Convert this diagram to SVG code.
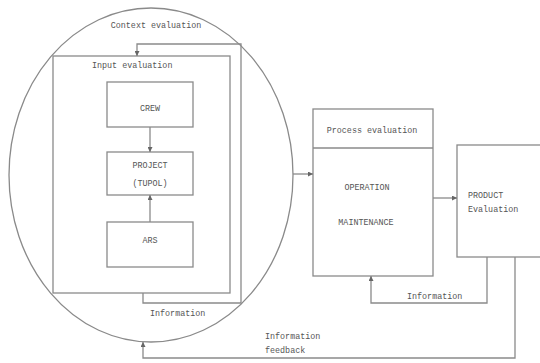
<svg xmlns="http://www.w3.org/2000/svg" width="540" height="363" viewBox="0 0 540 363">
<defs>
<marker id="arr" viewBox="0 0 8 8" refX="8" refY="4" markerWidth="5" markerHeight="5" orient="auto" markerUnits="userSpaceOnUse">
<path d="M0,0 L8,4 L0,8 z" fill="#666"/>
</marker>
<style>
.ln{fill:none;stroke:#8a8a8a;stroke-width:1.3}
.bx{fill:#fff;stroke:#8a8a8a;stroke-width:1.3}
.t{font-family:"Liberation Mono","DejaVu Sans Mono",monospace;font-size:8.4px;fill:#555}
.c{text-anchor:middle}
</style>
</defs>
<rect width="540" height="363" fill="#fff"/>
<g id="context">
<ellipse class="ln" cx="151" cy="175" rx="142" ry="167"/>
<text class="t c" x="156" y="28">Context evaluation</text>
</g>
<g id="input">
<rect class="bx" x="53" y="56" width="177" height="237"/>
<text class="t" x="92" y="68">Input evaluation</text>
</g>
<g id="crew">
<rect class="bx" x="107" y="82" width="86" height="45"/>
<text class="t c" x="150" y="111">CREW</text>
</g>
<g id="project">
<rect class="bx" x="107" y="152" width="86" height="43"/>
<text class="t c" x="150" y="168">PROJECT</text>
<text class="t c" x="150" y="186">(TUPOL)</text>
</g>
<g id="ars">
<rect class="bx" x="107" y="222" width="86" height="45"/>
<text class="t c" x="150" y="243">ARS</text>
</g>
<g id="process">
<rect class="bx" x="313" y="109" width="120" height="167"/>
<line class="ln" x1="313" y1="148" x2="433" y2="148"/>
<text class="t c" x="372" y="133">Process evaluation</text>
<text class="t c" x="367" y="190">OPERATION</text>
<text class="t c" x="366" y="225">MAINTENANCE</text>
</g>
<g id="product">
<rect class="bx" x="457" y="145" width="90" height="112"/>
<text class="t" x="468" y="198">PRODUCT</text>
<text class="t" x="468" y="212">Evaluation</text>
</g>
<g id="connectors">
<line class="ln" x1="150" y1="127" x2="150" y2="152" marker-end="url(#arr)"/>
<line class="ln" x1="150" y1="222" x2="150" y2="195" marker-end="url(#arr)"/>
<polyline class="ln" points="143,293 143,303 241,303 241,44 137,44 137,56" marker-end="url(#arr)"/>
<line class="ln" x1="293" y1="174" x2="313" y2="174" marker-end="url(#arr)"/>
<line class="ln" x1="433" y1="198" x2="457" y2="198" marker-end="url(#arr)"/>
<polyline class="ln" points="487,257 487,303 371,303 371,276" marker-end="url(#arr)"/>
<polyline class="ln" points="515,257 515,358 143,358 143,342" marker-end="url(#arr)"/>
<text class="t" x="150" y="316">Information</text>
<text class="t" x="407" y="299">Information</text>
<text class="t" x="265" y="339">Information</text>
<text class="t" x="265" y="353">feedback</text>
</g>
</svg>
